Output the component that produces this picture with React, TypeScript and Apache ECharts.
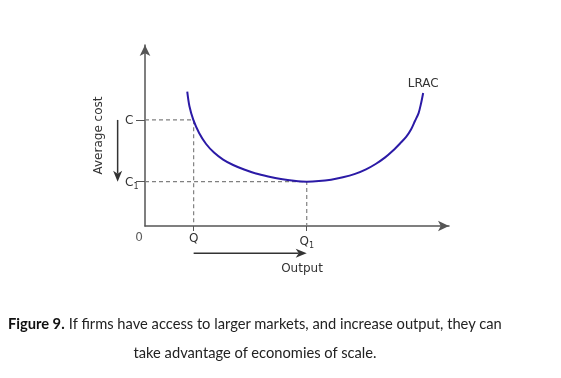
import React, { useEffect, useRef } from "react";
import * as echarts from "echarts";

// Long-run average cost curve (x: output, y: average cost)
const lracX = [13.9, 14.6, 15.9, 17.8, 20.1, 22.7, 25.7, 29.0, 32.6, 36.5, 40.5, 44.7, 49.0, 53.2, 57.2, 61.2, 65.1, 69.1, 72.7, 76.0, 79.0, 81.6, 83.9, 85.9, 87.5, 88.8, 90.0, 90.8, 91.5];
const lracY = [74.2, 66.3, 58.6, 51.4, 45.3, 40.6, 36.7, 33.7, 31.2, 29.0, 27.4, 26.0, 25.0, 24.5, 24.8, 25.6, 26.9, 28.8, 31.3, 34.4, 37.9, 41.7, 45.6, 49.2, 53.3, 58.0, 62.4, 67.7, 73.5];

// Reference levels
const outputLevels = [16, 53.2]; // Q, Q1
const outputLabels = ["Q", "Q{s|1}"];
const costLevels = [58.6, 24.5]; // C, C1
const costLabels = ["C", "C{s|1}"];

const curveName = "LRAC";
const yAxisName = "Average cost";
const xAxisName = "Output";
const originLabel = "0";
const captionBold = "Figure 9.";
const captionRest = " If firms have access to larger markets, and increase output, they can";
const captionLine2 = "take advantage of economies of scale.";

// annotation arrows [x1, y1, x2, y2] in data units
const costArrowX = -9;
const outputArrowY = -15;
const arrows = [
  [costArrowX, costLevels[0], costArrowX, costLevels[1]],
  [outputLevels[0], outputArrowY, outputLevels[1], outputArrowY],
];

export default function App() {
  const ref = useRef<HTMLDivElement>(null);
  useEffect(() => {
    if (!ref.current) return;
    const chart = echarts.init(ref.current, null, { renderer: "svg" });
    const font = "DejaVu Sans";
    const textColor = "#333";
    const axisColor = "#555";
    const dashColor = "#808080";
    const curveData = lracX.map((x, i) => [x, lracY[i]]);
    const lastIdx = curveData.length - 1;
    const rich = {
      s: { fontSize: 8, fontFamily: font, color: textColor, verticalAlign: "bottom", padding: [9, 0, 0, 0] },
    };
    const dashSeries = outputLevels.map((q, i) => ({
      type: "line",
      data: [
        [0, costLevels[i]],
        [q, costLevels[i]],
        [q, 0],
      ],
      symbol: "none",
      silent: true,
      lineStyle: { color: dashColor, width: 1.2, type: [4, 3] },
      z: 1,
    }));
    chart.setOption({
      animation: false,
      grid: { left: 145, top: 45, right: 112, bottom: 152 },
      xAxis: {
        type: "value",
        min: 0,
        max: 100,
        splitLine: { show: false },
        axisLine: {
          lineStyle: { color: axisColor, width: 1.5 },
          symbol: ["none", "arrow"],
          symbolSize: [8, 11],
        },
        axisTick: { show: true, customValues: outputLevels, length: 5, lineStyle: { color: axisColor } },
        axisLabel: {
          customValues: outputLevels,
          margin: 6,
          fontFamily: font,
          fontSize: 12,
          color: textColor,
          formatter: (v: number) => outputLabels[outputLevels.indexOf(v)] ?? "",
          rich,
        },
        name: xAxisName,
        nameLocation: "middle",
        nameGap: 36,
        nameTextStyle: { fontFamily: font, fontSize: 12, color: textColor, padding: [0, 0, 0, 10] },
      },
      yAxis: {
        type: "value",
        min: 0,
        max: 100,
        splitLine: { show: false },
        axisLine: {
          lineStyle: { color: axisColor, width: 1.5 },
          symbol: ["none", "arrow"],
          symbolSize: [8, 11],
        },
        axisTick: { show: true, customValues: costLevels, length: 9, lineStyle: { color: axisColor } },
        axisLabel: {
          customValues: costLevels,
          margin: 20,
          align: "left",
          fontFamily: font,
          fontSize: 12,
          color: textColor,
          formatter: (v: number) => costLabels[costLevels.indexOf(v)] ?? "",
          rich,
        },
        name: yAxisName,
        nameLocation: "middle",
        nameRotate: 90,
        nameGap: 41,
        nameTextStyle: { fontFamily: font, fontSize: 12, color: textColor },
      },
      series: [
        ...dashSeries,
        {
          type: "line",
          data: curveData.map((p, i) =>
            i === lastIdx
              ? {
                  value: p,
                  label: {
                    show: true,
                    position: "top",
                    distance: 4,
                    formatter: curveName,
                    fontFamily: font,
                    fontSize: 12,
                    color: textColor,
                  },
                }
              : p
          ),
          smooth: 0.3,
          symbol: "circle",
          symbolSize: 0,
          showSymbol: true,
          lineStyle: { color: "#2b1aa6", width: 2 },
          itemStyle: { color: "#2b1aa6" },
          z: 3,
          clip: false,
        },
        {
          type: "scatter",
          data: [[0, 0]],
          symbolSize: 0,
          silent: true,
          clip: false,
          label: {
            show: true,
            formatter: originLabel,
            position: "bottom",
            offset: [-6, 0],
            fontFamily: font,
            fontSize: 12,
            color: textColor,
          },
        },
        {
          type: "custom",
          data: arrows,
          encode: { x: [0, 2], y: [1, 3] },
          silent: true,
          clip: false,
          renderItem: (params: any, api: any) => {
            const p1 = api.coord([api.value(0), api.value(1)]);
            const p2 = api.coord([api.value(2), api.value(3)]);
            const dx = p2[0] - p1[0];
            const dy = p2[1] - p1[1];
            const len = Math.sqrt(dx * dx + dy * dy) || 1;
            const ux = dx / len;
            const uy = dy / len;
            const px = -uy;
            const py = ux;
            const headLen = 11;
            const halfW = 4.5;
            const notch = 3;
            const bx = p2[0] - ux * headLen;
            const by = p2[1] - uy * headLen;
            const nx = p2[0] - ux * (headLen - notch);
            const ny = p2[1] - uy * (headLen - notch);
            const color = "#333";
            return {
              type: "group",
              children: [
                {
                  type: "line",
                  shape: { x1: p1[0], y1: p1[1], x2: nx, y2: ny },
                  style: { stroke: color, lineWidth: 1.5 },
                },
                {
                  type: "polygon",
                  shape: {
                    points: [
                      [p2[0], p2[1]],
                      [bx + px * halfW, by + py * halfW],
                      [nx, ny],
                      [bx - px * halfW, by - py * halfW],
                    ],
                  },
                  style: { fill: color },
                },
              ],
            };
          },
        },
      ],
      graphic: [
        {
          type: "text",
          x: 255,
          y: 308,
          style: {
            text: `{b|${captionBold}}{n|${captionRest}}\n{n|${captionLine2}}`,
            align: "center",
            rich: {
              b: { fontFamily: "Lato", fontWeight: "bold", fontSize: 14.7, lineHeight: 29, fill: "#111" },
              n: { fontFamily: "Lato", fontSize: 14.7, lineHeight: 29, fill: "#222" },
            },
          },
        },
      ],
    });
    return () => chart.dispose();
  }, []);
  return <div ref={ref} style={{ position: "fixed", left: 0, top: 0, width: 561, height: 378 }} />;
}
